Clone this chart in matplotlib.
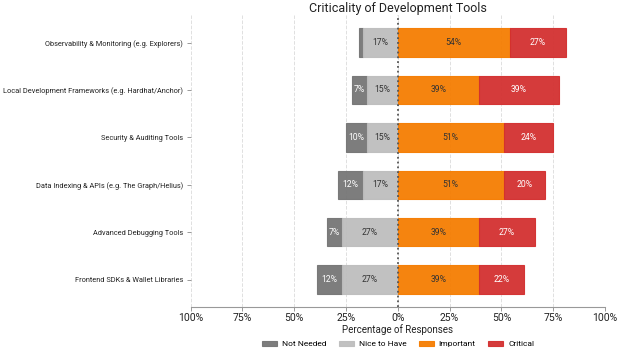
import matplotlib.pyplot as plt
import numpy as np

plt.rcParams['font.family'] = ['Roboto', 'DejaVu Sans']

# Data (percent of responses)
tools = [
    "Observability & Monitoring (e.g. Explorers)",
    "Local Development Frameworks (e.g. Hardhat/Anchor)",
    "Security & Auditing Tools",
    "Data Indexing & APIs (e.g. The Graph/Helius)",
    "Advanced Debugging Tools",
    "Frontend SDKs & Wallet Libraries",
]
not_needed = [2, 7, 10, 12, 7, 12]
nice_to_have = [17, 15, 15, 17, 27, 27]
important = [54, 39, 51, 51, 39, 39]
critical = [27, 39, 24, 20, 27, 22]

colors = {
    "Not Needed": "#757575",
    "Nice to Have": "#bdbdbd",
    "Important": "#f57c00",
    "Critical": "#d32f2f",
}
text_colors = {
    "Not Needed": "white",
    "Nice to Have": "#333333",
    "Important": "#333333",
    "Critical": "white",
}

fig = plt.figure(figsize=(6.24, 3.53), dpi=100)
ax = fig.add_axes([0.3056, 0.1303, 0.664, 0.827])

y = np.arange(len(tools))
nn = np.array(not_needed)
nh = np.array(nice_to_have)
im = np.array(important)
cr = np.array(critical)

segments = [
    ("Not Needed", -(nn + nh), nn),
    ("Nice to Have", -nh, nh),
    ("Important", np.zeros(len(tools)), im),
    ("Critical", im, cr),
]

for name, left, width in segments:
    bars = ax.barh(y, width, left=left, height=0.6, color=colors[name],
                   alpha=0.94, edgecolor=colors[name], linewidth=0.8,
                   label=name, zorder=2)
    for b, w in zip(bars, width):
        if w >= 5:
            ax.text(b.get_x() + b.get_width() / 2, b.get_y() + b.get_height() / 2,
                    f"{w}%", ha='center', va='center', fontsize=6.2,
                    color=text_colors[name], zorder=3)

ax.axvline(0, color='#555555', linestyle=':', linewidth=1.3, zorder=4)

ax.set_xlim(-100, 100)
ax.set_yticks(y)
ax.set_yticklabels(tools, fontsize=5.3, color='#222222')
ax.invert_yaxis()
ticks = np.arange(-100, 101, 25)
ax.set_xticks(ticks)
ax.set_xticklabels([f"{abs(t)}%" for t in ticks], fontsize=7.5, color='#222222')
ax.set_xlabel("Percentage of Responses", fontsize=7, color='#222222', labelpad=0.5)
ax.set_title("Criticality of Development Tools", fontsize=9, color='#222222', pad=2)

ax.grid(axis='x', linestyle='--', color='#e0e0e0', linewidth=0.7, zorder=0)
ax.set_axisbelow(True)
for s in ['top', 'right', 'left']:
    ax.spines[s].set_visible(False)
ax.spines['bottom'].set_color('#999999')
ax.tick_params(axis='both', colors='#999999', length=3, width=0.7, labelcolor='#222222')
ax.tick_params(axis='x', pad=1.5)
ax.tick_params(axis='y', pad=2.5)

ax.legend(loc='upper center', bbox_to_anchor=(0.5, -0.09), ncol=4, frameon=False,
          fontsize=6.0, handlelength=1.8, handleheight=0.6, handletextpad=0.6,
          columnspacing=1.5)

fig.savefig("out.png", dpi=100)
